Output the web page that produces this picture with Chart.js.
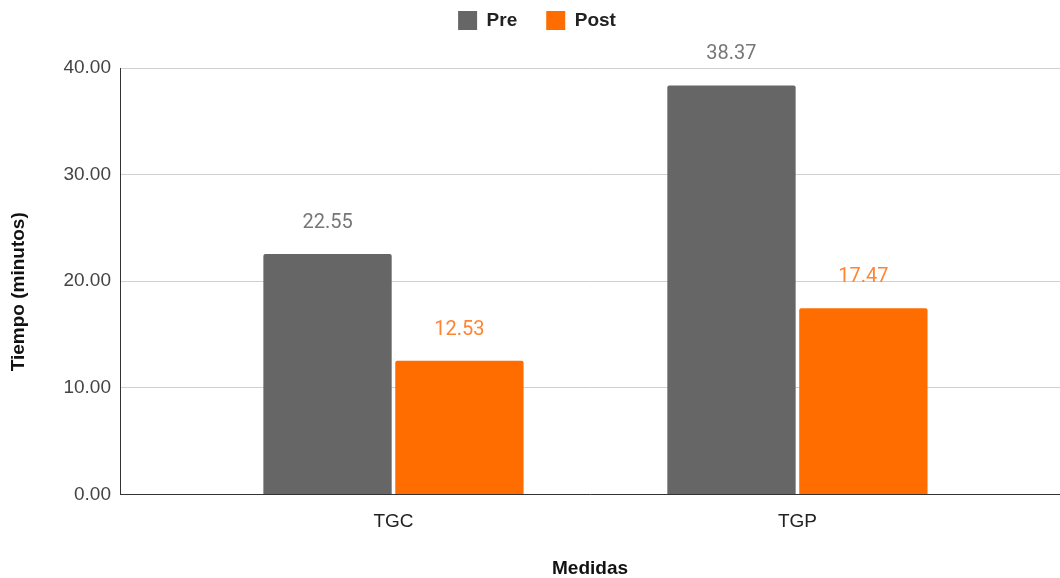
<!DOCTYPE html>
<html>
<head>
<meta charset="utf-8">
<script src="https://cdn.jsdelivr.net/npm/chart.js@4.4.0/dist/chart.umd.min.js"></script>
<style>
  html, body { margin: 0; padding: 0; background: #ffffff; }
  #wrap { width: 1060px; height: 578px; position: relative; }
</style>
</head>
<body>
<div id="wrap"><canvas id="chart"></canvas></div>
<script>
// Categories and series values (minutes)
const categories = ['TGC', 'TGP'];
const preValues = [22.55, 38.37];
const postValues = [12.53, 17.47];
const yTicks = [0, 10, 20, 30, 40];

const seriesNames = ['Pre', 'Post'];
const barColors = ['#666666', '#ff6d00'];
const labelColors = ['#777777', '#ff8533'];

const baseFont = '"Liberation Sans", Arial, sans-serif';

// Value labels placed above each bar, read from the bar elements
const valueLabels = {
  id: 'valueLabels',
  afterDatasetsDraw(chart) {
    const ctx = chart.ctx;
    ctx.save();
    ctx.font = '20px Roboto, "Liberation Sans", sans-serif';
    ctx.textAlign = 'center';
    ctx.textBaseline = 'middle';
    chart.data.datasets.forEach((ds, di) => {
      const meta = chart.getDatasetMeta(di);
      meta.data.forEach((bar, i) => {
        ctx.fillStyle = labelColors[di];
        ctx.fillText(ds.data[i].y.toFixed(2), bar.x, bar.y - 31);
      });
    });
    ctx.restore();
  }
};

// Extra gap below the legend row, and a small rightward nudge of the legend
const legendGap = {
  id: 'legendGap',
  beforeLayout(chart) {
    const lg = chart.legend;
    if (lg && !lg._gapPatched) {
      const fit = lg.fit;
      lg.fit = function () {
        fit.call(this);
        this.height += 28;
      };
      lg._gapPatched = true;
    }
  },
  afterLayout(chart) {
    const lg = chart.legend;
    if (lg) {
      lg.left += 7;
      lg.right += 7;
    }
  }
};

new Chart(document.getElementById('chart'), {
  type: 'bar',
  data: {
    datasets: [
      {
        label: seriesNames[0],
        data: categories.map((c, i) => ({ x: i, y: preValues[i] })),
        backgroundColor: barColors[0],
        borderRadius: 2,
        borderSkipped: 'bottom'
      },
      {
        label: seriesNames[1],
        data: categories.map((c, i) => ({ x: i, y: postValues[i] })),
        backgroundColor: barColors[1],
        borderRadius: 2,
        borderSkipped: 'bottom'
      }
    ]
  },
  options: {
    responsive: true,
    maintainAspectRatio: false,
    animation: false,
    categoryPercentage: 0.653,
    barPercentage: 0.973,
    layout: { padding: { top: -18, right: 0, left: 0, bottom: 0 } },
    plugins: {
      legend: {
        position: 'top',
        labels: {
          boxWidth: 19,
          boxHeight: 19,
          padding: 29,
          color: '#222222',
          font: { family: baseFont, size: 19, weight: 'bold' }
        }
      },
      tooltip: { enabled: false }
    },
    scales: {
      x: {
        type: 'linear',
        offset: false,
        min: -0.677,
        max: 1.65,
        afterBuildTicks(scale) {
          scale.ticks = categories.map((c, i) => ({ value: i }));
        },
        ticks: {
          callback: (v) => categories[v],
          color: '#222222',
          padding: 8,
          font: { family: baseFont, size: 19 }
        },
        grid: { display: false },
        border: { display: true, color: '#333333', width: 1 },
        title: {
          display: true,
          text: 'Medidas',
          color: '#111111',
          padding: { top: 16, bottom: -2 },
          font: { family: baseFont, size: 19, weight: 'bold' }
        }
      },
      y: {
        min: 0,
        max: 40,
        afterBuildTicks(scale) {
          scale.ticks = yTicks.map(v => ({ value: v }));
        },
        afterFit(scale) { scale.width = 120; },
        ticks: {
          callback: (v) => v.toFixed(2),
          color: '#444444',
          padding: 9,
          font: { family: baseFont, size: 19 }
        },
        grid: { color: '#d0d0d0', lineWidth: 1, drawTicks: false },
        border: { display: true, color: '#333333', width: 1 },
        title: {
          display: true,
          text: 'Tiempo (minutos)    ',
          color: '#111111',
          padding: { top: 7, bottom: 0 },
          font: { family: baseFont, size: 19, weight: 'bold' }
        }
      }
    }
  },
  plugins: [valueLabels, legendGap]
});
</script>
</body>
</html>
